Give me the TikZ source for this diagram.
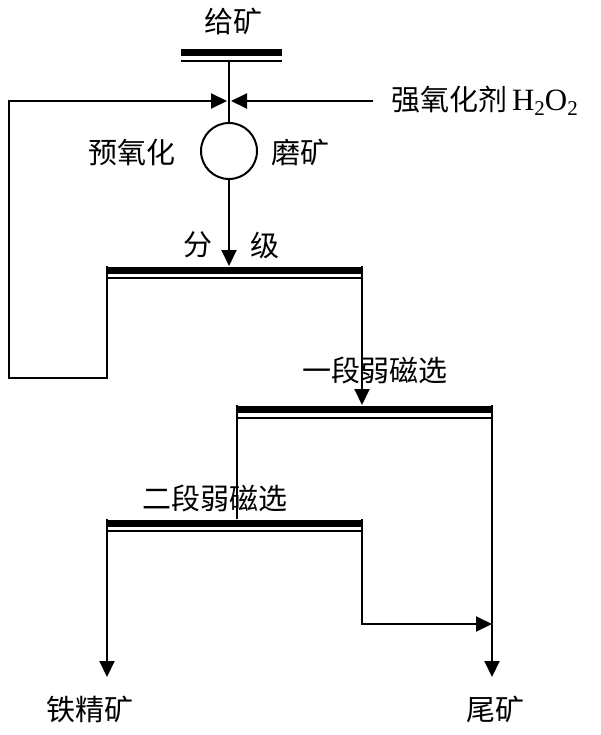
\documentclass[tikz,border=0pt]{standalone}
\usepackage{fontspec}
\newfontfamily\cjk{Noto Sans CJK SC}
\setmainfont{Liberation Serif}
\usetikzlibrary{arrows.meta}
\begin{document}
\begin{tikzpicture}[x=1pt,y=-1pt,
  flow/.style={line width=2pt},
  arr/.style={flow,-{Triangle[length=16pt,width=15pt]}},
  lbl/.style={font=\cjk\fontsize{29}{29}\selectfont, inner sep=0pt},
  thickbar/.style={line width=7pt},
  thinbar/.style={line width=2.4pt}]
\useasboundingbox (0,0) rectangle (600,735);
% bars
\draw[thickbar] (181,53) -- (282,53);
\draw[thinbar] (181,61) -- (282,61);
\draw[thickbar] (106,270) -- (363,270);
\draw[thinbar] (106,278) -- (363,278);
\draw[thickbar] (237,409) -- (493,409);
\draw[thinbar] (237,418) -- (493,418);
\draw[thickbar] (106,523) -- (363,523);
\draw[thinbar] (106,531) -- (363,531);
% coordinates
\coordinate (feed) at (229,62);
\coordinate (clsIn) at (229,266);
\coordinate (clsL) at (107,266);
\coordinate (clsR) at (362,266);
\coordinate (loopA) at (107,378);
\coordinate (loopB) at (9,378);
\coordinate (loopC) at (9,101);
\coordinate (mixL) at (227,101);
\coordinate (mixR) at (231,101);
\coordinate (oxT) at (373,101);
\coordinate (m1In) at (362,405);
\coordinate (m1L) at (237,405);
\coordinate (m1R) at (492,405);
\coordinate (m2In) at (237,519);
\coordinate (m2L) at (107,519);
\coordinate (m2R) at (362,519);
\coordinate (turn) at (362,624);
\coordinate (tailJ) at (492,624);
\coordinate (concEnd) at (107,677);
\coordinate (tailEnd) at (492,677);
% mill
\node[draw, circle, line width=2pt, minimum size=56pt, inner sep=0pt] (mill) at (229,151) {};
% texts
\node[lbl] (tFeed) at (233,21) {给矿};
\node[lbl, anchor=west] (tOx) at (391,101) {强氧化剂\,\fontspec{Liberation Serif}\fontsize{31}{31}\selectfont H\raisebox{-5pt}{\fontsize{21}{21}\selectfont 2}O\raisebox{-5pt}{\fontsize{21}{21}\selectfont 2}};
\node[lbl] (tPre) at (132,152) {预氧化};
\node[lbl] (tMill) at (300,152) {磨矿};
\node[lbl] (tFen) at (198,245) {分};
\node[lbl] (tJi) at (265,245) {级};
\node[lbl] (tM1) at (375,370) {一段弱磁选};
\node[lbl] (tM2) at (215,498) {二段弱磁选};
\node[lbl] (tConc) at (90,709) {铁精矿};
\node[lbl] (tTail) at (495,709) {尾矿};
% connectors
\draw[flow] (feed) -- (mill.north);
\draw[arr] (mill.south) -- (clsIn);
\draw[arr] (clsL) -- (loopA) -- (loopB) -- (loopC) -- (mixL);
\draw[arr] (oxT) -- (mixR);
\draw[arr] (clsR) -- (m1In);
\draw[flow] (m1L) -- (m2In);
\draw[arr] (m1R) -- (tailEnd);
\draw[arr] (m2L) -- (concEnd);
\draw[arr] (m2R) -- (turn) -- (tailJ);
\end{tikzpicture}
\end{document}
